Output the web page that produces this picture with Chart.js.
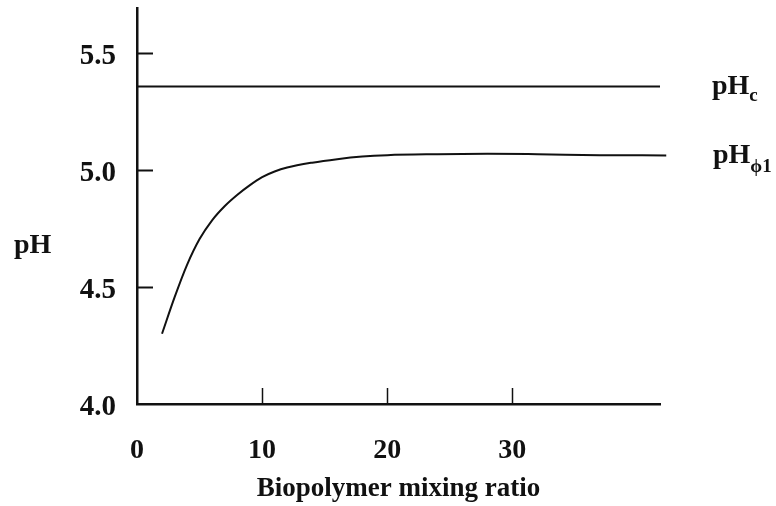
<!DOCTYPE html>
<html>
<head>
<meta charset="utf-8">
<script src="https://cdn.jsdelivr.net/npm/chart.js@4.4.1/dist/chart.umd.min.js"></script>
<style>
  html, body { margin: 0; padding: 0; background: #ffffff; }
  #wrap { width: 776px; height: 506px; }
</style>
</head>
<body>
<div id="wrap"><canvas id="grafico" width="776" height="506"></canvas></div>
<script>
// DATOS
var mixingRatio = [2, 3, 4, 5, 6, 7, 8, 9, 10, 11, 12, 14, 16, 18, 20, 24, 28, 32, 37, 42.3];
var phPhi1 = [4.30, 4.455, 4.594, 4.704, 4.784, 4.844, 4.892, 4.933, 4.968, 4.992, 5.009, 5.03, 5.045, 5.056, 5.062, 5.066, 5.068, 5.066, 5.062, 5.061];
var phCritical = 5.355;
var xRange = [0, 41.8];
var yRange = [4.0, 5.69];
var xTicks = [0, 10, 20, 30];
var yTicks = [4.0, 4.5, 5.0, 5.5];
var innerXTicks = [10, 20, 30];
var innerYTicks = [4.5, 5.0, 5.5];

var serif = "'Liberation Serif', 'Times New Roman', serif";
var ink = "#111111";

// quita el hueco que Chart.js reserva para medio rótulo en los extremos
function sinRelleno(s) {
    s.paddingTop = 0;
    s.paddingBottom = 0;
    s.paddingLeft = 0;
    s.paddingRight = 0;
}

// Marcas hacia dentro y textos de las curvas
var extras = {
    id: "extras",
    afterDraw: function (chart) {
        var ctx = chart.ctx;
        var xs = chart.scales.x;
        var ys = chart.scales.y;
        var area = chart.chartArea;
        ctx.save();
        ctx.strokeStyle = ink;

        // ticks del eje y
        ctx.lineWidth = 2;
        innerYTicks.forEach(function (v) {
            var py = Math.round(ys.getPixelForValue(v)) + 0.5;
            ctx.beginPath();
            ctx.moveTo(area.left, py);
            ctx.lineTo(area.left + 16, py);
            ctx.stroke();
        });
        // ticks del eje x
        ctx.lineWidth = 1.5;
        innerXTicks.forEach(function (v) {
            var px = Math.round(xs.getPixelForValue(v)) + 0.5;
            ctx.beginPath();
            ctx.moveTo(px, area.bottom);
            ctx.lineTo(px, area.bottom - 16);
            ctx.stroke();
        });

        // textos
        ctx.fillStyle = ink;
        ctx.textBaseline = "alphabetic";
        ctx.textAlign = "left";

        ctx.font = "bold 28px " + serif;
        ctx.fillText("pH", 14, 253);

        var yc = ys.getPixelForValue(phCritical);
        ctx.font = "bold 28px " + serif;
        ctx.fillText("pH", 712, yc + 8);
        var w = ctx.measureText("pH").width;
        ctx.font = "bold 19px " + serif;
        ctx.fillText("c", 712 + w, yc + 15);

        var yp = ys.getPixelForValue(phPhi1[phPhi1.length - 1]);
        ctx.font = "bold 28px " + serif;
        ctx.fillText("pH", 713, yp + 8);
        w = ctx.measureText("pH").width;
        ctx.font = "bold 19px " + serif;
        ctx.fillText("\u03D51", 713 + w, yp + 17);

        ctx.restore();
    }
};

var datos = {
    datasets: [{
        label: "pHc",
        data: xRange.map(function (x) { return {x: x, y: phCritical}; }),
        borderColor: ink,
        borderWidth: 2,
        pointRadius: 0,
        clip: false
    }, {
        label: "pHphi1",
        data: mixingRatio.map(function (x, i) { return {x: x, y: phPhi1[i]}; }),
        borderColor: ink,
        borderWidth: 2,
        pointRadius: 0,
        cubicInterpolationMode: "monotone",
        clip: false
    }]
};

var config = {
    type: "line",
    data: datos,
    options: {
        responsive: false,
        animation: false,
        layout: { padding: { top: 8, right: 116, left: 0, bottom: 0 } },
        plugins: {
            legend: { display: false },
            tooltip: { enabled: false }
        },
        scales: {
            x: {
                type: "linear",
                min: xRange[0],
                max: xRange[1],
                afterBuildTicks: function (s) { s.ticks = xTicks.map(function (v) { return {value: v}; }); },
                afterFit: function (s) { s.height = 102; sinRelleno(s); },
                grid: { display: false, drawTicks: false },
                border: { display: true, color: ink, width: 2.5 },
                ticks: {
                    color: ink,
                    padding: 30,
                    maxRotation: 0,
                    font: { family: serif, size: 28, weight: "bold" },
                    callback: function (v) { return String(v); }
                },
                title: {
                    display: true,
                    text: "Biopolymer mixing ratio",
                    color: ink,
                    padding: { top: 0, bottom: 1 },
                    font: { family: serif, size: 27, weight: "bold" }
                }
            },
            y: {
                type: "linear",
                min: yRange[0],
                max: yRange[1],
                afterBuildTicks: function (s) { s.ticks = yTicks.map(function (v) { return {value: v}; }); },
                afterFit: function (s) { s.width = 137; sinRelleno(s); },
                grid: { display: false, drawTicks: false },
                border: { display: true, color: ink, width: 2.5 },
                ticks: {
                    color: ink,
                    padding: 21,
                    labelOffset: 4,
                    font: { family: serif, size: 29, weight: "bold" },
                    callback: function (v) { return Number(v).toFixed(1); }
                }
            }
        }
    },
    plugins: [extras]
};

new Chart(document.getElementById("grafico").getContext("2d"), config);
</script>
</body>
</html>
